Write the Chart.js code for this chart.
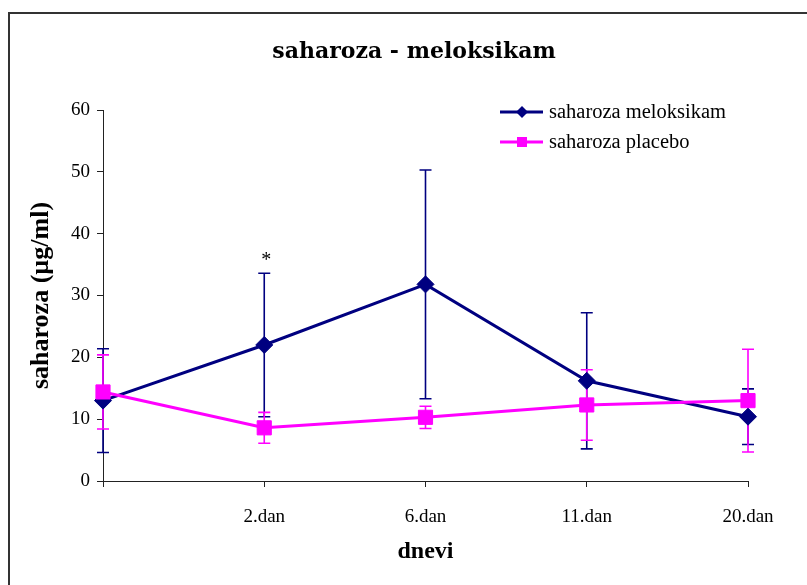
<!DOCTYPE html>
<html>
<head>
<meta charset="utf-8">
<script src="https://cdn.jsdelivr.net/npm/chart.js@4.4.1/dist/chart.umd.min.js"></script>
<style>
  html, body { margin: 0; padding: 0; background: #ffffff; }
  #wrap { width: 807px; height: 585px; position: relative; }
</style>
</head>
<body>
<div id="wrap"><canvas id="c" width="807" height="585"></canvas></div>
<script>
// Sucrose concentration by day, meloxicam vs placebo (mean ± SD)
const categories = ['', '2.dan', '6.dan', '11.dan', '20.dan'];
const meloksikam = [13.0, 22.0, 31.8, 16.2, 10.4];
const meloksikamSD = [8.4, 11.6, 18.5, 11.0, 4.5];
const placebo = [14.4, 8.6, 10.3, 12.3, 13.0];
const placeboSD = [6.0, 2.5, 1.8, 5.7, 8.3];
const significance = ['', '*', '', '', ''];
const yTicks = [0, 10, 20, 30, 40, 50, 60];
const seriesNames = ['saharoza meloksikam', 'saharoza placebo'];
const chartTitle = 'saharoza - meloksikam';
const xTitle = 'dnevi';
const yTitle = 'saharoza (µg/ml)';

const NAVY = '#000080';
const MAGENTA = '#ff00ff';
const AXIS = '#222222';

// Outer frame and chart heading
const framePlugin = {
  id: 'frame',
  beforeDraw(chart) {
    const ctx = chart.ctx;
    ctx.save();
    ctx.fillStyle = '#ffffff';
    ctx.fillRect(0, 0, chart.width, chart.height);
    ctx.strokeStyle = '#333333';
    ctx.lineWidth = 2;
    ctx.beginPath();
    ctx.moveTo(9, chart.height + 2);
    ctx.lineTo(9, 13);
    ctx.lineTo(chart.width + 2, 13);
    ctx.stroke();
    ctx.restore();
  },
  afterDraw(chart) {
    const ctx = chart.ctx;
    ctx.save();
    ctx.fillStyle = '#000000';
    ctx.font = 'bold 22px "DejaVu Serif"';
    ctx.textAlign = 'center';
    ctx.textBaseline = 'middle';
    ctx.fillText(chartTitle, 414, 52);
    ctx.restore();
  }
};

// Vertical SD bars with caps, drawn under the lines and markers
const errorBarPlugin = {
  id: 'errorBars',
  beforeDatasetsDraw(chart) {
    const ctx = chart.ctx;
    const y = chart.scales.y;
    chart.data.datasets.forEach((ds, i) => {
      const meta = chart.getDatasetMeta(i);
      ctx.save();
      ctx.strokeStyle = ds.borderColor;
      ctx.lineWidth = 1.6;
      meta.data.forEach((pt, j) => {
        const v = ds.data[j];
        const e = ds.errors[j];
        const yTop = y.getPixelForValue(v + e);
        const yBot = y.getPixelForValue(Math.max(0, v - e));
        const x = pt.x;
        ctx.beginPath();
        ctx.moveTo(x, yTop); ctx.lineTo(x, yBot);
        ctx.moveTo(x - 6, yTop); ctx.lineTo(x + 6, yTop);
        ctx.moveTo(x - 6, yBot); ctx.lineTo(x + 6, yBot);
        ctx.stroke();
      });
      ctx.restore();
    });
  },
  afterDatasetsDraw(chart) {
    // significance marks above the meloxicam bars
    const ctx = chart.ctx;
    const y = chart.scales.y;
    const meta = chart.getDatasetMeta(0);
    ctx.save();
    ctx.fillStyle = '#000000';
    ctx.font = '20px "Liberation Serif"';
    ctx.textAlign = 'center';
    ctx.textBaseline = 'middle';
    significance.forEach((s, j) => {
      if (!s) return;
      const top = y.getPixelForValue(meloksikam[j] + meloksikamSD[j]);
      ctx.fillText(s, meta.data[j].x + 2, top - 12);
    });
    ctx.restore();
  }
};

// Legend placed inside the plot, top right
const legendPlugin = {
  id: 'insetLegend',
  afterDraw(chart) {
    const ctx = chart.ctx;
    const rows = [112, 142];
    ctx.save();
    chart.data.datasets.forEach((ds, i) => {
      const ly = rows[i];
      ctx.strokeStyle = ds.borderColor;
      ctx.lineWidth = 3;
      ctx.beginPath();
      ctx.moveTo(500, ly); ctx.lineTo(543, ly);
      ctx.stroke();
      ctx.fillStyle = ds.borderColor;
      ctx.beginPath();
      if (ds.pointStyle === 'rectRot') {
        ctx.moveTo(522, ly - 6); ctx.lineTo(528, ly); ctx.lineTo(522, ly + 6); ctx.lineTo(516, ly);
        ctx.closePath();
      } else {
        ctx.rect(517, ly - 5, 10, 10);
      }
      ctx.fill();
      ctx.fillStyle = '#000000';
      ctx.font = '20.5px "Liberation Serif"';
      ctx.textAlign = 'left';
      ctx.textBaseline = 'middle';
      ctx.fillText(ds.label, 549, ly + 1);
    });
    ctx.restore();
  }
};

const chart = new Chart(document.getElementById('c'), {
  type: 'line',
  data: {
    labels: categories,
    datasets: [
      {
        label: seriesNames[0],
        data: meloksikam,
        errors: meloksikamSD,
        borderColor: NAVY,
        backgroundColor: NAVY,
        borderWidth: 3,
        pointStyle: 'rectRot',
        pointRadius: 8.5,
        pointBorderWidth: 1,
        tension: 0,
        order: 1
      },
      {
        label: seriesNames[1],
        data: placebo,
        errors: placeboSD,
        borderColor: MAGENTA,
        backgroundColor: MAGENTA,
        borderWidth: 3,
        pointStyle: 'rect',
        pointRadius: 10,
        pointBorderWidth: 1,
        tension: 0,
        order: 0
      }
    ]
  },
  options: {
    responsive: false,
    animation: false,
    devicePixelRatio: 1,
    layout: { padding: { top: 110, right: 59, bottom: 0, left: 0 } },
    plugins: {
      legend: { display: false },
      title: { display: false },
      tooltip: { enabled: false }
    },
    scales: {
      x: {
        type: 'category',
        offset: false,
        afterFit(scale) { scale.height = 104; },
        border: { display: true, color: AXIS, width: 1 },
        grid: { drawOnChartArea: false, drawTicks: true, tickLength: 6, color: AXIS, offset: false },
        ticks: {
          color: '#000000',
          font: { family: '"Liberation Serif"', size: 19 },
          padding: 19,
          maxRotation: 0,
          autoSkip: false
        },
        title: {
          display: true,
          text: xTitle,
          color: '#000000',
          font: { family: '"Liberation Serif"', size: 24, weight: 'bold' },
          padding: { top: 0, bottom: 19 }
        }
      },
      y: {
        min: 0,
        max: 60,
        afterFit(scale) { scale.width = 103; },
        afterBuildTicks(scale) { scale.ticks = yTicks.map(v => ({ value: v })); },
        border: { display: true, color: AXIS, width: 1 },
        grid: { drawOnChartArea: false, drawTicks: true, tickLength: 6, color: AXIS },
        ticks: {
          color: '#000000',
          font: { family: '"Liberation Serif"', size: 19 },
          padding: 7
        },
        title: {
          display: true,
          text: yTitle,
          color: '#000000',
          font: { family: '"Liberation Serif"', size: 26, weight: 'bold' },
          padding: { top: 26, bottom: 0 }
        }
      }
    }
  },
  plugins: [framePlugin, errorBarPlugin, legendPlugin]
});
</script>
</body>
</html>
